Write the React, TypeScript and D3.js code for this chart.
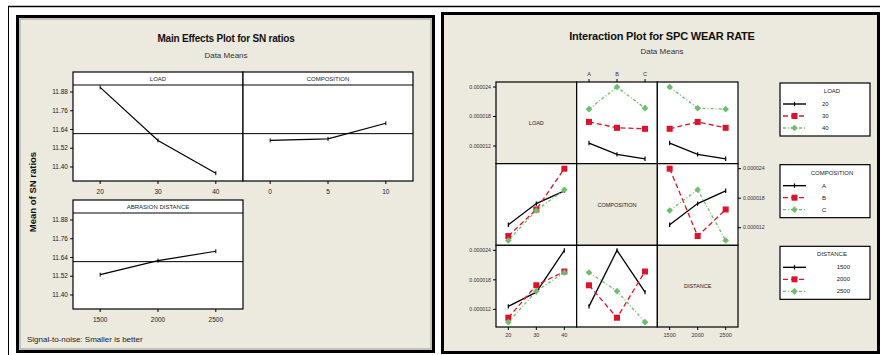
import * as d3 from 'd3';

// ---- main effects (SN ratios) ----
const loadLevels = [20, 30, 40];
const compMainLevels = [0, 5, 10];
const distLevels = [1500, 2000, 2500];
const loadSN = [11.91, 11.57, 11.36];
const compSN = [11.57, 11.58, 11.68];
const distSN = [11.53, 11.62, 11.68];
const snTicks = [11.4, 11.52, 11.64, 11.76, 11.88];

// ---- interaction (L9 runs, wear rate) ----
const compLevels = ['A', 'B', 'C'];
const runLoad = [20, 20, 20, 30, 30, 30, 40, 40, 40];
const runComp = ['A', 'B', 'C', 'A', 'B', 'C', 'A', 'B', 'C'];
const runDist = [1500, 2000, 2500, 2000, 2500, 1500, 2500, 1500, 2000];
const runWear = [12.6e-6, 10.3e-6, 9.4e-6, 16.9e-6, 15.7e-6, 15.5e-6, 19.5e-6, 24.0e-6, 19.7e-6];
const wearTicks = [0.000012, 0.000018, 0.000024];

const FONT = '"Liberation Sans", Arial, sans-serif';
const BEIGE = '#ECE9DF';
const RED = '#E0122B';
const GREEN = '#6DBE6D';
const INK = '#1a1a1a';

const snY = (y0: number, y1: number) => d3.scaleLinear().domain([11.31, 11.925]).range([y1, y0]);

function MainPanel({ x0, x1, y0, y1, title, levels, values, mean, yTicks }: {
  x0: number; x1: number; y0: number; y1: number; title: string;
  levels: number[]; values: number[]; mean: number; yTicks: boolean;
}) {
  const head = 13;
  const x = d3.scalePoint<number>().domain(levels).range([x0, x1]).padding(0.47);
  const y = snY(y0 + head, y1);
  const line = d3.line<number>().x((_, i) => x(levels[i])!).y(d => y(d));
  return (
    <g>
      <rect x={x0} y={y0} width={x1 - x0} height={y1 - y0} fill="#fff" stroke="#000" strokeWidth={1.2} />
      <line x1={x0} x2={x1} y1={y0 + head} y2={y0 + head} stroke="#000" strokeWidth={1} />
      <text x={(x0 + x1) / 2} y={y0 + 9} fontSize={6} textAnchor="middle" fill={INK}>{title}</text>
      <line x1={x0} x2={x1} y1={y(mean)} y2={y(mean)} stroke="#000" strokeWidth={1} />
      <path d={line(values)!} fill="none" stroke="#000" strokeWidth={1.2} />
      {values.map((v, i) => (
        <line key={i} x1={x(levels[i])!} x2={x(levels[i])!} y1={y(v) - 2} y2={y(v) + 2} stroke="#000" strokeWidth={1} />
      ))}
      {levels.map(l => (
        <g key={l}>
          <line x1={x(l)!} x2={x(l)!} y1={y1} y2={y1 + 3} stroke="#000" />
          <text x={x(l)!} y={y1 + 13} fontSize={6.5} textAnchor="middle" fill={INK}>{l}</text>
        </g>
      ))}
      {yTicks && snTicks.map(t => (
        <g key={t}>
          <line x1={x0 - 3} x2={x0} y1={y(t)} y2={y(t)} stroke="#000" />
          <text x={x0 - 5} y={y(t) + 2.2} fontSize={6.5} textAnchor="end" fill={INK}>{t.toFixed(2)}</text>
        </g>
      ))}
    </g>
  );
}

const factors = [
  { name: 'LOAD', levels: loadLevels as (number | string)[], run: runLoad as (number | string)[] },
  { name: 'COMPOSITION', levels: compLevels as (number | string)[], run: runComp as (number | string)[] },
  { name: 'DISTANCE', levels: distLevels as (number | string)[], run: runDist as (number | string)[] },
];

const styles = [
  { color: '#000', dash: '' },
  { color: RED, dash: '5,3' },
  { color: GREEN, dash: '3,2,1,2' },
];

function Marker({ k, cx, cy }: { k: number; cx: number; cy: number }) {
  if (k === 0) return <line x1={cx} x2={cx} y1={cy - 2.2} y2={cy + 2.2} stroke="#000" strokeWidth={1.2} />;
  if (k === 1) return <rect x={cx - 3} y={cy - 3} width={6} height={6} fill={RED} />;
  return <path d={`M${cx},${cy - 3.3}L${cx + 3.3},${cy}L${cx},${cy + 3.3}L${cx - 3.3},${cy}Z`} fill={GREEN} />;
}

function Interaction() {
  const gx0 = 496, gx1 = 738, gy0 = 82, gy1 = 327;
  const cw = (gx1 - gx0) / 3, ch = (gy1 - gy0) / 3;
  const cells: JSX.Element[] = [];
  for (let r = 0; r < 3; r++) {
    const top = gy0 + r * ch;
    const y = d3.scaleLinear().domain([8.41e-6, 25.02e-6]).range([top + ch, top]);
    for (let c = 0; c < 3; c++) {
      const left = gx0 + c * cw;
      if (r === c) {
        cells.push(
          <g key={`${r}${c}`}>
            <rect x={left} y={top} width={cw} height={ch} fill={BEIGE} stroke="#000" strokeWidth={1.2} />
            <text x={left + cw / 2} y={top + ch / 2 + 2} fontSize={5.5} textAnchor="middle" fill={INK}>{factors[r].name}</text>
          </g>
        );
        continue;
      }
      const fr = factors[r], fc = factors[c];
      const x = d3.scalePoint<number | string>().domain(fc.levels).range([left, left + cw]).padding(0.44);
      cells.push(
        <g key={`${r}${c}`}>
          <rect x={left} y={top} width={cw} height={ch} fill="#fff" stroke="#000" strokeWidth={1.2} />
          {fr.levels.map((lr, k) => {
            const pts = fc.levels.map(lc => {
              const vals = runWear.filter((_, i) => fr.run[i] === lr && fc.run[i] === lc);
              return [x(lc)!, y(d3.mean(vals)!)] as [number, number];
            });
            return (
              <g key={String(lr)}>
                <path d={d3.line()(pts)!} fill="none" stroke={styles[k].color} strokeWidth={1.3} strokeDasharray={styles[k].dash} />
                {pts.map((p, i) => <Marker key={i} k={k} cx={p[0]} cy={p[1]} />)}
              </g>
            );
          })}
        </g>
      );
    }
    // y axis (left for rows 0 and 2, right for row 1)
    const right = r === 1;
    const ax = right ? gx1 : gx0;
    wearTicks.forEach(t => {
      cells.push(
        <g key={`t${r}${t}`}>
          <line x1={ax} x2={right ? ax + 3 : ax - 3} y1={y(t)} y2={y(t)} stroke="#000" />
          <text x={right ? ax + 5 : ax - 5} y={y(t) + 1.8} fontSize={5.2} textAnchor={right ? 'start' : 'end'} fill="#333">{d3.format('.6f')(t)}</text>
        </g>
      );
    });
  }
  // top axis for column 2, bottom axes for columns 1 and 3
  [1, 0, 2].forEach(c => {
    const left = gx0 + c * cw;
    const fc = factors[c];
    const x = d3.scalePoint<number | string>().domain(fc.levels).range([left, left + cw]).padding(0.44);
    const topAxis = c === 1;
    fc.levels.forEach(l => {
      cells.push(
        <g key={`x${c}${l}`}>
          <line x1={x(l)!} x2={x(l)!} y1={topAxis ? gy0 : gy1} y2={topAxis ? gy0 - 3 : gy1 + 3} stroke="#000" />
          <text x={x(l)!} y={topAxis ? gy0 - 6 : gy1 + 10} fontSize={5.5} textAnchor="middle" fill="#333">{l}</text>
        </g>
      );
    });
  });
  // legends
  factors.forEach((f, r) => {
    const top = gy0 + r * ch + 1;
    const lx = 780, lw = 90, lh = 53;
    cells.push(
      <g key={`lg${r}`}>
        <rect x={lx} y={top} width={lw} height={lh} fill="#fff" stroke="#000" strokeWidth={1.2} />
        <text x={lx + 52} y={top + 10} fontSize={6} textAnchor="middle" fill={INK}>{f.name}</text>
        {f.levels.map((l, k) => {
          const yy = top + 21 + k * 12;
          return (
            <g key={String(l)}>
              <line x1={lx + 3} x2={lx + 26} y1={yy} y2={yy} stroke={styles[k].color} strokeWidth={1.4} strokeDasharray={styles[k].dash} />
              <Marker k={k} cx={lx + 14.5} cy={yy} />
              <text x={r === 2 ? lx + 70 : lx + 42} y={yy + 2} fontSize={6} textAnchor={r === 2 ? 'end' : 'start'} fill={INK}>{l}</text>
            </g>
          );
        })}
      </g>
    );
  });
  return <g>{cells}</g>;
}

export default function App() {
  const grand = d3.mean(loadSN)!;
  return (
    <div style={{ position: 'absolute', left: 0, top: 0 }}>
      <svg width={880} height={355} style={{ display: 'block', fontFamily: FONT }}>
        <rect width={880} height={355} fill="#fff" />
        <line x1={8} x2={880} y1={6.5} y2={6.5} stroke="#000" strokeWidth={1.6} />
        <line x1={8.5} x2={8.5} y1={6} y2={355} stroke="#000" strokeWidth={1} />

        {/* left panel */}
        <rect x={17.5} y={16.5} width={416} height={335} fill={BEIGE} stroke="#000" strokeWidth={3} />
        <rect x={20} y={19} width={411} height={330} fill="none" stroke="#9a9a94" strokeWidth={1} />
        <text x={226} y={42} fontSize={10} fontWeight="bold" textAnchor="middle" fill="#111" letterSpacing={-0.2}>Main Effects Plot for SN ratios</text>
        <text x={226} y={58} fontSize={8} textAnchor="middle" fill="#333">Data Means</text>
        <MainPanel x0={73} x1={243} y0={72} y1={181} title="LOAD" levels={loadLevels} values={loadSN} mean={grand} yTicks />
        <MainPanel x0={243} x1={413} y0={72} y1={181} title="COMPOSITION" levels={compMainLevels} values={compSN} mean={grand} yTicks={false} />
        <MainPanel x0={73} x1={243} y0={200} y1={309} title="ABRASION DISTANCE" levels={distLevels} values={distSN} mean={grand} yTicks />
        <text transform="translate(36,192) rotate(-90)" fontSize={9.5} fontWeight="bold" textAnchor="middle" fill="#111">Mean of SN ratios</text>
        <text x={27} y={342} fontSize={8} fill={INK}>Signal-to-noise: Smaller is better</text>

        {/* right panel */}
        <rect x={442.5} y={13.5} width={436} height={339} fill={BEIGE} stroke="#000" strokeWidth={3} />
        <text x={662} y={40} fontSize={11} fontWeight="bold" textAnchor="middle" fill="#111" letterSpacing={-0.2}>Interaction Plot for SPC WEAR RATE</text>
        <text x={662} y={54} fontSize={8} textAnchor="middle" fill="#333">Data Means</text>
        <Interaction />
      </svg>
    </div>
  );
}
